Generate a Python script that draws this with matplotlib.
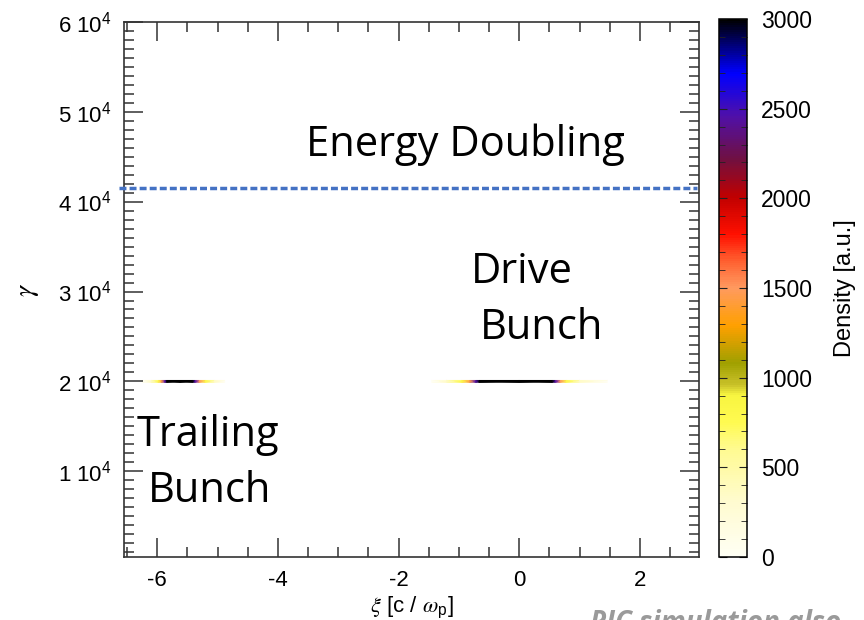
import numpy as np
import matplotlib
matplotlib.use('Agg')
import matplotlib.pyplot as plt
from matplotlib.colors import LinearSegmentedColormap, Normalize
from matplotlib.cm import ScalarMappable
from matplotlib.ticker import MultipleLocator, FixedLocator, FixedFormatter

plt.rcParams['font.family'] = ['Liberation Sans', 'DejaVu Sans']
plt.rcParams['mathtext.fontset'] = 'custom'
plt.rcParams['mathtext.rm'] = 'Liberation Sans'
plt.rcParams['mathtext.it'] = 'STIXGeneral:italic'
plt.rcParams['mathtext.bf'] = 'Liberation Sans:bold'
plt.rcParams['axes.unicode_minus'] = False

# bunch profiles (xi in c/omega_p, density in a.u.)
drive_xi = [-1.45, -1.2, -0.95, -0.82, -0.72, -0.66, 0.0, 0.55, 0.6, 0.68, 0.78, 1.0, 1.46]
drive_density = [0, 350, 800, 1450, 2450, 3000, 3000, 3000, 2450, 1500, 800, 350, 0]
trail_xi = [-6.25, -6.1, -5.98, -5.93, -5.87, -5.84, -5.62, -5.41, -5.37, -5.3, -5.2, -5.05, -4.88]
trail_density = [0, 350, 800, 1450, 2450, 3000, 3000, 3000, 2450, 1500, 800, 350, 0]
bunch_gamma = 20000
bunch_halfwidth = 100
energy_doubling = 41500

y_ticks = [10000, 20000, 30000, 40000, 50000, 60000]
y_ticklabels = ['1 10$^4$', '2 10$^4$', '3 10$^4$', '4 10$^4$', '5 10$^4$', '6 10$^4$']
cb_ticks = [0, 500, 1000, 1500, 2000, 2500, 3000]

# IDL-like density colour table
cmap_nodes = [0.0, 0.1, 0.2, 0.25, 0.3, 0.32, 0.36, 0.43, 0.5, 0.55, 0.6, 0.67, 0.74, 0.82, 0.9, 1.0]
cmap_colors = ['#fffff4', '#fffbd0', '#fffa90', '#fffa50', '#f8f540', '#c8c028', '#a0a000',
               '#ffa000', '#ff9a60', '#ff6030', '#ff1000', '#c00000', '#701040', '#5010a8',
               '#0000ff', '#000000']
density_cmap = LinearSegmentedColormap.from_list('density', list(zip(cmap_nodes, cmap_colors)))
norm = Normalize(0, 3000)

W, H = 864, 620
fig = plt.figure(figsize=(W / 100, H / 100), dpi=100)

def px(x0, y0, x1, y1):
    return [x0 / W, 1 - y1 / H, (x1 - x0) / W, (y1 - y0) / H]

ax = fig.add_axes(px(124, 22, 699, 557))
cax = fig.add_axes(px(719, 19, 747, 557))

for xs, ds in [(drive_xi, drive_density), (trail_xi, trail_density)]:
    X = np.array([xs, xs])
    Y = np.array([[bunch_gamma - bunch_halfwidth] * len(xs), [bunch_gamma + bunch_halfwidth] * len(xs)])
    C = np.array([ds, ds])
    ax.pcolormesh(X, Y, C, cmap=density_cmap, norm=norm, shading='gouraud')

ax.axhline(energy_doubling, xmin=-0.008, xmax=0.997, color='#4472c4', lw=2.5,
           dashes=(2.0, 0.9), clip_on=False, zorder=5)

ax.set_xlim(-6.55, 2.98)
ax.set_ylim(450, 60000)
ax.xaxis.set_major_locator(MultipleLocator(2))
ax.xaxis.set_minor_locator(MultipleLocator(0.5))
ax.yaxis.set_major_locator(FixedLocator(y_ticks))
ax.yaxis.set_major_formatter(FixedFormatter(y_ticklabels))
ax.yaxis.set_minor_locator(MultipleLocator(1000))
ax.tick_params(which='both', direction='in', top=True, right=True, color='#333333', width=1.1)
ax.tick_params(which='major', length=14, labelsize=16, pad=9)
ax.tick_params(which='minor', length=7)
for s in ax.spines.values():
    s.set_color('#333333')
    s.set_linewidth(1.2)
ax.set_xlabel(r'$\xi$ [c / $\omega_{\mathrm{p}}$]', fontsize=16, labelpad=3)
ax.set_ylabel(r'$\gamma$', fontsize=20, labelpad=12)

cb = fig.colorbar(ScalarMappable(norm=norm, cmap=density_cmap), cax=cax)
cb.set_ticks(cb_ticks)
cb.ax.yaxis.set_minor_locator(MultipleLocator(100))
cb.ax.tick_params(which='both', direction='in', left=True, right=True, color='#222222')
cb.ax.tick_params(which='major', length=6, labelsize=16.5, pad=10)
cb.ax.tick_params(which='minor', length=4)
cb.outline.set_linewidth(1.1)
cb.set_label('Density [a.u.]', fontsize=17, labelpad=16)

def note(x, y, s):
    fig.text(x / W, 1 - y / H, s, ha='center', va='baseline', fontsize=30,
             family=['Open Sans', 'DejaVu Sans'], color='black')

note(465, 156, 'Energy Doubling')
note(522, 283, 'Drive')
note(542, 339, 'Bunch')
note(208, 446, 'Trailing')
note(210, 502, 'Bunch')

fig.text(590 / W, 1 - 609 / H, 'PIC simulation also', ha='left', va='top', fontsize=20,
         style='italic', fontweight='bold', color='#9a9a9a', family=['Open Sans', 'DejaVu Sans'])

fig.savefig('out.png', dpi=100)
